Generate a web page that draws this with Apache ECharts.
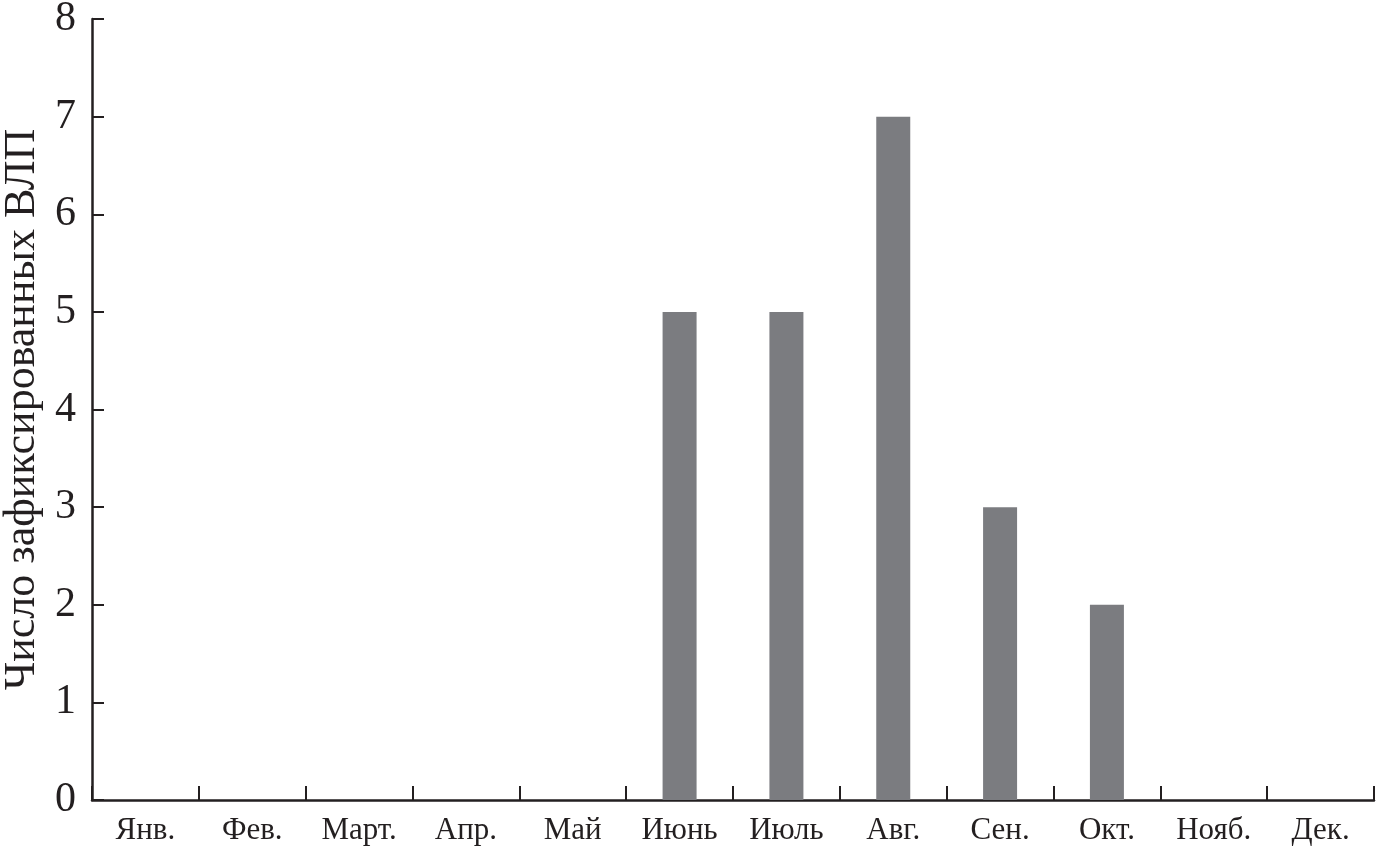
<!DOCTYPE html>
<html><head><meta charset="utf-8">
<script src="https://cdn.jsdelivr.net/npm/echarts@6/dist/echarts.min.js"></script>
<style>html,body{margin:0;padding:0;background:#fff}#c{width:1377px;height:851px}</style>
</head><body><div id="c"></div>
<script>
const categories = ['Янв.', 'Фев.', 'Март.', 'Апр.', 'Май', 'Июнь', 'Июль', 'Авг.', 'Сен.', 'Окт.', 'Нояб.', 'Дек.'];
const values = [0, 0, 0, 0, 0, 5, 5, 7, 3, 2, 0, 0];
const yAxisName = 'Число зафиксированных ВЛП';
const yMin = 0, yMax = 8, yStep = 1;

const chart = echarts.init(document.getElementById('c'), null, {renderer: 'canvas'});
const font = 'Liberation Serif';
chart.setOption({
  animation: false,
  backgroundColor: '#fff',
  grid: {left: 92, right: 3, top: 19, bottom: 51, containLabel: false, outerBoundsMode: 'none'},
  xAxis: {
    type: 'category', data: categories, boundaryGap: true,
    axisLine: {lineStyle: {color: '#231f20', width: 2.5}},
    axisTick: {show: true, inside: true, length: 14, alignWithLabel: false, lineStyle: {color: '#231f20', width: 2}},
    axisLabel: {color: '#231f20', fontFamily: font, fontSize: 31, margin: 15, interval: 0}
  },
  yAxis: {
    type: 'value', min: yMin, max: yMax, interval: yStep,
    name: yAxisName, nameLocation: 'middle', nameGap: 43,
    nameTextStyle: {color: '#231f20', fontFamily: font, fontSize: 44},
    splitLine: {show: false},
    axisLine: {show: true, lineStyle: {color: '#231f20', width: 2.5}},
    axisTick: {show: true, inside: true, length: 12, lineStyle: {color: '#231f20', width: 2}},
    axisLabel: {color: '#231f20', fontFamily: font, fontSize: 42, margin: 16}
  },
  series: [{
    type: 'bar', data: values, barWidth: 34,
    itemStyle: {color: '#7b7c80', borderWidth: 0}
  }]
});
</script></body></html>
